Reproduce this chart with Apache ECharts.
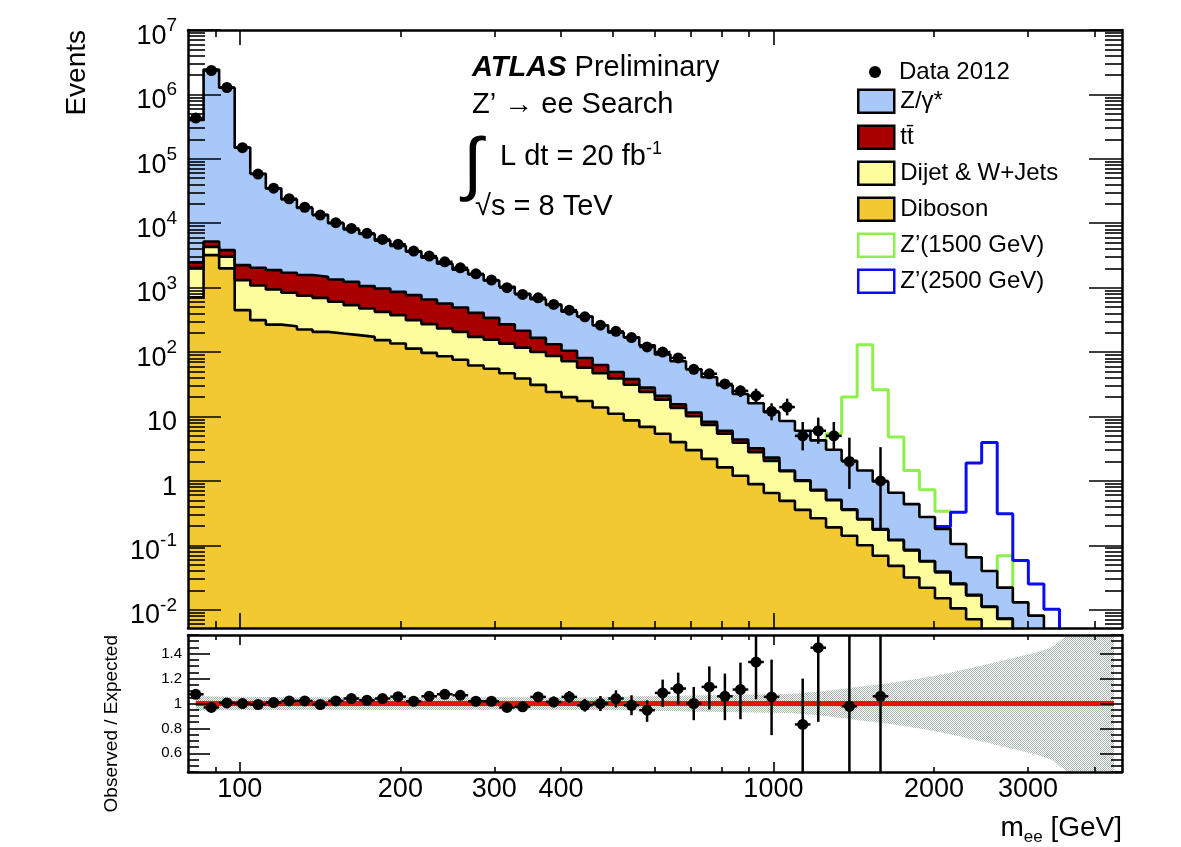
<!DOCTYPE html>
<html><head><meta charset="utf-8">
<script src="https://cdn.jsdelivr.net/npm/echarts@6/dist/echarts.min.js"></script>
<style>html,body{margin:0;padding:0;background:#fff}#c{width:1181px;height:847px}</style>
</head><body><div id="c"></div>
<script>
// ---------------- data ----------------
const binEdges = [80,85.56,91.50,97.85,104.65,111.92,119.69,128.00,136.89,146.40,156.56,167.44,179.07,191.50,204.80,219.02,234.24,250.50,267.90,286.50,306.40,327.68,350.44,374.78,400.80,428.64,458.41,490.24,524.29,560.70,599.64,641.29,685.82,733.45,784.39,838.87,897.12,959.43,1026.06,1097.32,1173.53,1255.03,1342.19,1435.40,1535.09,1641.70,1755.71,1877.64,2008.04,2147.50,2296.64,2456.14,2626.72,2809.14,3004.23,3212.87,3436.00,3674.63,3929.83,4202.75,4494.63];

// stacked tops (cumulative): Z/gamma* (= total), ttbar, dijet, diboson
const zgammaTop = [4.0e5,2.43e6,1.27e6,1.49e5,5.85e4,3.47e4,2.35e4,1.73e4,1.35e4,1.0e4,7980,6790,5380,4450,3630,2920,2350,1900,1610,1290,1030,806,660,541,424,357,261,202,170,127,92,72,54,40.6,30.6,22.3,16.0,11.6,8.5,6.0,4.25,3.05,2.05,1.45,0.98,0.655,0.435,0.275,0.18,0.105,0.065,0.04,0.022,0.013,0.0081,0.003];
const ttbarTop = [2470,5200,3830,2240,2040,1870,1700,1570,1475,1340,1234,1057,971,861,765,655,568,492,406,339,269,214,166,132,105,81,63,49,38,28,21,15.5,11.5,8.3,6.0,4.4,3.2,2.3,1.45,1.02,0.725,0.51,0.362,0.256,0.178,0.122,0.085,0.057,0.039,0.0255,0.017,0.0112,0.0073,0.003];
const dijetTop = [2030,4300,3010,1309,1082,938,832,747,695,603,535,475,421,374,313,271,232,206,172,155,135,117,100,87,72,57,47,39,31,24,18.2,13.6,10.1,7.4,5.4,3.9,2.8,2.04,1.41,1.0,0.71,0.50,0.355,0.251,0.174,0.12,0.083,0.056,0.038,0.025,0.0166,0.011,0.0072,0.003];
const dibosonTop = [711,3200,1990,447,313,267,252,224,206,194,183,172,153,136,113,97,86,76,62,55,46.8,38.9,30.9,24,20,17.4,13.8,11,8.7,6.9,5.4,4.0,3.0,2.2,1.62,1.2,0.89,0.65,0.49,0.355,0.263,0.19,0.141,0.1,0.069,0.048,0.0316,0.0219,0.0151,0.0105,0.0071,0.003];

// signal shapes (first bin index + values)
const zp1500Start = 40;
const zp1500 = [2.0,5.4,20,130,26,4.8,1.45,0.73,0.338,0.1,0.05,0.003,0.069,0.009,0.002];
const zp2500Start = 47;
const zp2500 = [0.15,0.195,0.327,1.9,3.95,0.31,0.058,0.025,0.0102,0.002];

// data 2012 events per bin
const dataEvents = [4.3e5,2.35e6,1.28e6,1.49e5,5.8e4,3.5e4,2.4e4,1.77e4,1.34e4,1.02e4,8300,6970,5600,4700,3700,3090,2520,2030,1640,1310,1000,784,695,548,447,352,261,210,168,120,100,81,54,46,32,25,21,12,14,5,6,5,2,null,1];
const dataErrStart = 33;
const dataErrLo = [39.5,26.7,20,16.7,8.7,10.4,2.97,3.77,3.1,0.75,null,0.173];
const dataErrHi = [52.8,38.1,30,27,16,18.9,8.2,9.6,8.2,4.68,null,3.34];

// ratio panel
const ratio = [1.074,0.968,1.005,1.0,0.992,1.008,1.021,1.021,0.992,1.021,1.04,1.026,1.04,1.055,1.018,1.058,1.074,1.066,1.018,1.018,0.968,0.973,1.053,1.013,1.053,0.986,1.0,1.04,0.986,0.946,1.085,1.12,1.0,1.133,1.058,1.112,1.333,1.053,null,0.832,1.448,null,0.978,null,1.058];
const ratioErrStart = 22;
const ratioErrLo = [1.013,0.97,1.006,0.935,0.94,0.968,0.906,0.853,0.973,0.992,0.866,0.952,0.866,0.874,1.034,0.746,null,0.3,0.853,null,0.2,null,0.1];
const ratioErrHi = [1.093,1.056,1.1,1.037,1.06,1.106,1.066,1.026,1.192,1.248,1.133,1.298,1.24,1.328,1.6,1.352,null,1.2,2.0,null,2.3,null,3.3];
const bandHalf = [0.058,0.056,0.055,0.054,0.053,0.052,0.052,0.051,0.051,0.05,0.05,0.05,0.05,0.05,0.05,0.05,0.05,0.05,0.05,0.05,0.05,0.05,0.05,0.05,0.05,0.05,0.052,0.054,0.056,0.058,0.06,0.062,0.064,0.066,0.068,0.07,0.072,0.074,0.076,0.085,0.095,0.108,0.125,0.14,0.155,0.17,0.19,0.21,0.235,0.26,0.29,0.32,0.35,0.38,0.41,0.45,0.55,0.6,0.62,0.64];

// axis ticks / labels
const xMajorTicks = [100, 1000];
const xMinorTicks = [90,200,300,400,500,600,700,800,900,2000,3000,4000];
const xTickLabels = [100,200,300,400,1000,2000,3000];
const yMajorExp = [-2,-1,0,1,2,3,4,5,6,7];
const yMinorMult = [2,3,4,5,6,7,8,9];
const ratioMajor = [0.6,0.8,1.0,1.2,1.4];
const ratioMinor = [0.45,0.5,0.55,0.65,0.7,0.75,0.85,0.9,0.95,1.05,1.1,1.15,1.25,1.3,1.35,1.45,1.5,1.55];

// ---------------- build ----------------
const F = '"Liberation Sans", Arial, Helvetica, sans-serif';
const L10 = Math.log10;
const X0 = 80, X1 = 4500, Y0 = 0.0052, Y1 = 1e7, R0 = 0.45, R1 = 1.55;
const C = {zg:'#a8c8fa', tt:'#a80000', dj:'#fefd9e', db:'#f2c931', z15:'#8ef04a', z25:'#0c0cf2', red:'#e3130f'};
const binCenters = binEdges.slice(0, -1).map((e, i) => Math.sqrt(e * binEdges[i + 1]));

function histPoints(vals, start) {
  start = start || 0;
  const pts = [];
  vals.forEach((v, k) => { if (v == null) return; const i = start + k; pts.push([binEdges[i], v], [binEdges[i + 1], v]); });
  return pts;
}
function errItems(vals, loArr, hiArr, errStart) {
  const out = [];
  vals.forEach((v, i) => {
    if (v == null) return;
    const k = i - errStart;
    const lo = (k >= 0 && loArr[k] != null) ? loArr[k] : null;
    const hi = (k >= 0 && hiArr[k] != null) ? hiArr[k] : null;
    out.push([binCenters[i], v, lo, hi, binEdges[i], binEdges[i + 1]]);
  });
  return out;
}
const yMinorLog = [];
for (let k = -3; k <= 6; k++) yMinorMult.forEach(m => yMinorLog.push(k + L10(m)));

function tickAxis(o) {
  return {
    type: 'value', gridIndex: o.grid, position: o.pos, min: o.min, max: o.max, z: 10, silent: true,
    axisLine: {show: !!o.line, onZero: false, lineStyle: {color: '#000', width: 2.5}},
    axisTick: {show: true, inside: true, length: o.len, customValues: o.ticks, lineStyle: {color: '#000', width: 1.6}},
    axisLabel: o.labels ? Object.assign({show: true, customValues: o.labels, hideOverlap: false, color: '#000', fontFamily: F}, o.labelOpt) : {show: false},
    splitLine: {show: false}, splitArea: {show: false}, minorTick: {show: false}
  };
}
const lx0 = L10(X0), lx1 = L10(X1), ly0 = L10(Y0), ly1 = L10(Y1);

const xAxes = [
  {type: 'log', gridIndex: 0, min: X0, max: X1, logBase: 10, show: false},
  tickAxis({grid: 0, pos: 'bottom', min: lx0, max: lx1, len: 7, ticks: xMinorTicks.map(L10)}),
  tickAxis({grid: 0, pos: 'bottom', min: lx0, max: lx1, len: 15, ticks: xMajorTicks.map(L10), line: true}),
  tickAxis({grid: 0, pos: 'top', min: lx0, max: lx1, len: 7, ticks: xMinorTicks.map(L10)}),
  tickAxis({grid: 0, pos: 'top', min: lx0, max: lx1, len: 15, ticks: xMajorTicks.map(L10), line: true}),
  {type: 'log', gridIndex: 1, min: X0, max: X1, logBase: 10, show: false},
  tickAxis({grid: 1, pos: 'bottom', min: lx0, max: lx1, len: 5, ticks: xMinorTicks.map(L10)}),
  tickAxis({grid: 1, pos: 'bottom', min: lx0, max: lx1, len: 10, ticks: xMajorTicks.map(L10), line: true,
    labels: xTickLabels.map(L10), labelOpt: {fontSize: 27, margin: 4, formatter: v => String(Math.round(Math.pow(10, v)))}}),
  tickAxis({grid: 1, pos: 'top', min: lx0, max: lx1, len: 5, ticks: xMinorTicks.map(L10)}),
  tickAxis({grid: 1, pos: 'top', min: lx0, max: lx1, len: 10, ticks: xMajorTicks.map(L10), line: true})
];
const yLabelOpt = {
  fontSize: 27, margin: 11, padding: [6, 0, 0, 0],
  formatter: v => { const n = Math.round(v); if (n === 0) return '{b|1}'; if (n === 1) return '{b|10}'; return '{b|10}{s|' + n + '}'; },
  rich: {
    b: {fontSize: 27, fontFamily: F, color: '#000', lineHeight: 33.5, verticalAlign: 'bottom'},
    s: {fontSize: 19, fontFamily: F, color: '#000', lineHeight: 19, verticalAlign: 'top'}
  }
};
const yAxes = [
  {type: 'log', gridIndex: 0, min: Y0, max: Y1, logBase: 10, show: false},
  tickAxis({grid: 0, pos: 'left', min: ly0, max: ly1, len: 17, ticks: yMinorLog}),
  tickAxis({grid: 0, pos: 'left', min: ly0, max: ly1, len: 33, ticks: yMajorExp, line: true, labels: yMajorExp, labelOpt: yLabelOpt}),
  tickAxis({grid: 0, pos: 'right', min: ly0, max: ly1, len: 17, ticks: yMinorLog}),
  tickAxis({grid: 0, pos: 'right', min: ly0, max: ly1, len: 33, ticks: yMajorExp, line: true}),
  {type: 'value', gridIndex: 1, min: R0, max: R1, show: false},
  tickAxis({grid: 1, pos: 'left', min: R0, max: R1, len: 11, ticks: ratioMinor}),
  tickAxis({grid: 1, pos: 'left', min: R0, max: R1, len: 22, ticks: ratioMajor, line: true, labels: ratioMajor,
    labelOpt: {fontSize: 15, margin: 6, formatter: v => String(Math.round(v * 10) / 10)}}),
  tickAxis({grid: 1, pos: 'right', min: R0, max: R1, len: 11, ticks: ratioMinor}),
  tickAxis({grid: 1, pos: 'right', min: R0, max: R1, len: 22, ticks: ratioMajor, line: true})
];

function histSeries(name, vals, start, color, fill) {
  const s = {
    name, type: 'line', xAxisIndex: 0, yAxisIndex: 0, data: histPoints(vals, start), symbol: 'none', showSymbol: false,
    silent: true, clip: true, connectNulls: false, z: fill ? 2 : 1,
    lineStyle: {color: fill ? '#000' : color, width: fill ? 2.6 : 3}
  };
  if (fill) s.areaStyle = {color: color, opacity: 1, origin: 'start'};
  return s;
}
function errRender(clampIt) {
  return function (params, api) {
    const xc = api.value(0), y = api.value(1), lo = api.value(2), hi = api.value(3), xl = api.value(4), xh = api.value(5);
    const cs = params.coordSys;
    const cl = v => clampIt ? Math.max(cs.y, Math.min(cs.y + cs.height, v)) : v;
    const ch = [];
    const a = api.coord([xl, y]), b = api.coord([xh, y]);
    ch.push({type: 'line', shape: {x1: a[0], y1: a[1], x2: b[0], y2: b[1]}, style: {stroke: '#000', lineWidth: 2.5}});
    if (!isNaN(lo) && !isNaN(hi) && lo !== null && hi !== null) {
      const p = api.coord([xc, lo]), q = api.coord([xc, hi]);
      ch.push({type: 'line', shape: {x1: p[0], y1: cl(p[1]), x2: q[0], y2: cl(q[1])}, style: {stroke: '#000', lineWidth: 2.5}});
    }
    return {type: 'group', children: ch};
  };
}

// dithered look for the uncertainty band
const pc = document.createElement('canvas'); pc.width = 2; pc.height = 2;
const pg = pc.getContext('2d'); pg.fillStyle = '#a4b4ad'; pg.fillRect(0, 0, 1, 1); pg.fillRect(1, 1, 1, 1);

const ratioPts = [], bandHi = [], bandLo = [];
binCenters.forEach((c, i) => { bandHi.push([c, 1 + bandHalf[i]]); bandLo.push([c, 1 - bandHalf[i]]); });
ratio.forEach((r, i) => { if (r != null) ratioPts.push([binCenters[i], r]); });
const dataPts = [];
dataEvents.forEach((v, i) => { if (v != null) dataPts.push([binCenters[i], v]); });

const series = [
  histSeries('Z’(1500 GeV)', zp1500, zp1500Start, C.z15, false),
  histSeries('Z’(2500 GeV)', zp2500, zp2500Start, C.z25, false),
  histSeries('Z/γ*', zgammaTop, 0, C.zg, true),
  histSeries('tt̄', ttbarTop, 0, C.tt, true),
  histSeries('Dijet & W+Jets', dijetTop, 0, C.dj, true),
  histSeries('Diboson', dibosonTop, 0, C.db, true),
  {type: 'custom', name: 'dataErr', xAxisIndex: 0, yAxisIndex: 0, silent: true, encode: {x: 0, y: 1}, z: 4,
   data: errItems(dataEvents, dataErrLo, dataErrHi, dataErrStart), renderItem: errRender(false)},
  {type: 'scatter', name: 'Data 2012', xAxisIndex: 0, yAxisIndex: 0, data: dataPts, symbol: 'circle', symbolSize: 11, z: 5,
   itemStyle: {color: '#000', opacity: 1}, silent: true},
  // ratio panel
  {type: 'line', name: 'bandHi', xAxisIndex: 5, yAxisIndex: 5, data: bandHi, symbol: 'none', silent: true, clip: true, z: 1,
   lineStyle: {width: 0, opacity: 0}, areaStyle: {color: {image: pc, repeat: 'repeat'}, opacity: 1, origin: 'start'}},
  {type: 'line', name: 'bandLo', xAxisIndex: 5, yAxisIndex: 5, data: bandLo, symbol: 'none', silent: true, clip: true, z: 1,
   lineStyle: {width: 0, opacity: 0}, areaStyle: {color: '#ffffff', opacity: 1, origin: 'start'}},
  {type: 'line', name: 'unity', xAxisIndex: 5, yAxisIndex: 5, symbol: 'none', silent: true, z: 2,
   data: [[binCenters[0], 1], [binCenters[binCenters.length - 1], 1]], lineStyle: {color: C.red, width: 5}},
  {type: 'custom', name: 'ratioErr', xAxisIndex: 5, yAxisIndex: 5, silent: true, encode: {x: 0, y: 1}, clip: true, z: 4,
   data: errItems(ratio, ratioErrLo, ratioErrHi, ratioErrStart), renderItem: errRender(true)},
  {type: 'scatter', name: 'ratioPts', xAxisIndex: 5, yAxisIndex: 5, data: ratioPts, symbol: 'circle', symbolSize: 11, z: 5,
   itemStyle: {color: '#000', opacity: 1}, silent: true, clip: true}
];

const legTxt = {fontFamily: F, fontSize: 24, color: '#000'};
const option = {
  animation: false,
  backgroundColor: '#fff',
  grid: [
    {left: 188, top: 30, width: 934, height: 598, containLabel: false, outerBoundsMode: 'none'},
    {left: 188, top: 635, width: 934, height: 137, containLabel: false, outerBoundsMode: 'none'}
  ],
  xAxis: xAxes, yAxis: yAxes,
  legend: [
    {left: 869, top: 60, padding: 0, itemWidth: 12, itemHeight: 12, selectedMode: false,
     textStyle: Object.assign({padding: [0, 0, 0, 13], lineHeight: 12}, legTxt),
     data: [{name: 'Data 2012', icon: 'circle', itemStyle: {color: '#000', borderWidth: 0, opacity: 1}}]},
    {orient: 'vertical', left: 857, top: 88.5, padding: 0, itemWidth: 36, itemHeight: 23, itemGap: 10.5, selectedMode: false,
     textStyle: Object.assign({padding: [0, 0, 0, 1], lineHeight: 23}, legTxt),
     data: [
       {name: 'Z/γ*', icon: 'rect', itemStyle: {color: C.zg, borderColor: '#000', borderWidth: 2.5}},
       {name: 'tt̄', icon: 'rect', itemStyle: {color: C.tt, borderColor: '#000', borderWidth: 2.5}},
       {name: 'Dijet & W+Jets', icon: 'rect', itemStyle: {color: C.dj, borderColor: '#000', borderWidth: 2.5}},
       {name: 'Diboson', icon: 'rect', itemStyle: {color: C.db, borderColor: '#000', borderWidth: 2.5}},
       {name: 'Z’(1500 GeV)', icon: 'rect', itemStyle: {color: '#fff', borderColor: C.z15, borderWidth: 2.5}},
       {name: 'Z’(2500 GeV)', icon: 'rect', itemStyle: {color: '#fff', borderColor: C.z25, borderWidth: 2.5}}
     ]}
  ],
  graphic: [
    {type: 'text', x: 77, y: 30, rotation: Math.PI / 2, silent: true,
     style: {text: 'Events', fontFamily: F, fontSize: 28, fill: '#000', align: 'right', verticalAlign: 'middle', textAlign: 'right', textVerticalAlign: 'middle'}},
    {type: 'text', x: 112, y: 635, rotation: Math.PI / 2, silent: true,
     style: {text: 'Observed / Expected', fontFamily: F, fontSize: 19, fill: '#000', align: 'right', verticalAlign: 'middle', textAlign: 'right', textVerticalAlign: 'middle'}},
    {type: 'text', x: 472, y: 68, silent: true,
     style: {text: '{a|ATLAS} Preliminary', fontFamily: F, fontSize: 29, fill: '#000', verticalAlign: 'middle', textVerticalAlign: 'middle',
       rich: {a: {fontFamily: F, fontSize: 29, fontWeight: 'bold', fontStyle: 'italic'}}}},
    {type: 'text', x: 472, y: 105, silent: true,
     style: {text: 'Z’ → ee Search', fontFamily: F, fontSize: 29, fill: '#000', verticalAlign: 'middle', textVerticalAlign: 'middle'}},
    {type: 'text', x: 463, y: 168, silent: true,
     style: {text: '∫', fontFamily: F, fontSize: 70, fill: '#000', verticalAlign: 'middle', textVerticalAlign: 'middle'}},
    {type: 'text', x: 500, y: 156, silent: true,
     style: {text: '{n|L dt = 20 fb}{s|-1}', fontFamily: F, fontSize: 29, fill: '#000', verticalAlign: 'middle', textVerticalAlign: 'middle',
       rich: {n: {fontFamily: F, fontSize: 29, lineHeight: 31.5, verticalAlign: 'bottom'}, s: {fontFamily: F, fontSize: 18, lineHeight: 18, verticalAlign: 'top'}}}},
    {type: 'text', x: 475, y: 207, silent: true,
     style: {text: '√s = 8 TeV', fontFamily: F, fontSize: 29, fill: '#000', verticalAlign: 'middle', textVerticalAlign: 'middle'}},
    {type: 'text', x: 1122, y: 830, silent: true,
     style: {text: '{m|m}{e|ee}{m| [GeV]}', fontFamily: F, fontSize: 28, fill: '#000', align: 'right', textAlign: 'right', verticalAlign: 'middle', textVerticalAlign: 'middle',
       rich: {m: {fontFamily: F, fontSize: 28, lineHeight: 31, verticalAlign: 'top'}, e: {fontFamily: F, fontSize: 17, lineHeight: 17, verticalAlign: 'bottom'}}}}
  ],
  series
};
const chart = echarts.init(document.getElementById('c'), null, {renderer: 'canvas'});
chart.setOption(option);
</script>
</body></html>
